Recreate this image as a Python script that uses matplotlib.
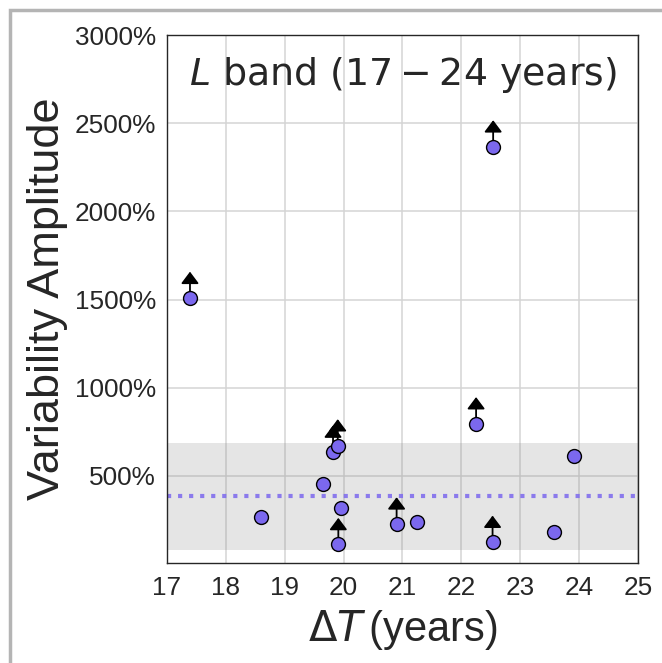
import numpy as np
import matplotlib
matplotlib.use("Agg")
import matplotlib.pyplot as plt
from matplotlib.patches import Rectangle

plt.rcParams["font.family"] = ["Liberation Sans", "DejaVu Sans"]
plt.rcParams["mathtext.fontset"] = "dejavusans"

# L-band variability amplitudes vs. time baseline
delta_t = [17.39, 18.60, 19.65, 19.82, 19.90, 19.96, 19.91,
           20.90, 21.24, 22.25, 22.54, 22.53, 23.57, 23.91]
amplitude = [1508, 267, 456, 636, 672, 318, 112,
             229, 239, 797, 2367, 125, 182, 611]
is_lower_limit = [True, False, False, True, True, False, True,
                  True, False, True, True, True, False, False]

band_lo, band_hi = 82, 689
arrow_len = 150

x_ticks = [17, 18, 19, 20, 21, 22, 23, 24, 25]
y_ticks = [500, 1000, 1500, 2000, 2500, 3000]

fig = plt.figure(figsize=(6.62, 6.63), dpi=100)
ax = fig.add_axes([0.2523, 0.1508, 0.7114, 0.7964])

ax.set_xlim(17, 25)
ax.set_ylim(6, 3000)
ax.set_xticks(x_ticks)
ax.set_yticks(y_ticks)
ax.set_yticklabels([f"{v}%" for v in y_ticks])
ax.tick_params(length=0, labelsize=18.8, colors="#262626")
ax.tick_params(axis="y", pad=8)
ax.tick_params(axis="x", pad=9)
ax.grid(True, color="#d4d4d4", lw=1.1, zorder=0)
ax.set_axisbelow(True)
for sp in ax.spines.values():
    sp.set_color("#262626")
    sp.set_linewidth(1.0)

ax.axhspan(band_lo, band_hi, color="gray", alpha=0.2, lw=0, zorder=1)
ax.axhline(np.median(amplitude), color="mediumslateblue", ls=":", lw=3,
           alpha=0.85, zorder=2)

for x, y, lim in zip(delta_t, amplitude, is_lower_limit):
    if lim:
        ax.annotate("", xy=(x, y + arrow_len), xytext=(x, y),
                    arrowprops=dict(arrowstyle="-|>,head_length=0.36,head_width=0.27",
                                    mutation_scale=20, color="black", lw=1.3,
                                    shrinkA=0, shrinkB=0),
                    zorder=3)

ax.plot(delta_t, amplitude, "o", ms=10, mfc="mediumslateblue", mec="black",
        mew=1.0, zorder=4, ls="none")

ax.text(0.5, 0.925, r"$L$ band ($17-24$ years)", transform=ax.transAxes,
        ha="center", va="center", fontsize=27.3, family="DejaVu Sans",
        color="#262626")

ax.set_xlabel(r"$\Delta T\,$(years)", fontsize=30, color="#262626", labelpad=6)
ax.set_ylabel("Variability Amplitude", fontsize=32.5, color="#262626", labelpad=5)

# light frame around the panel
fig.add_artist(Rectangle((9.5 / 662, -0.2), 1.2, 1.2 - 9.5 / 663,
                         transform=fig.transFigure, fill=False,
                         edgecolor="#b4b4b4", lw=2.5))

fig.savefig("out.png", dpi=100)
